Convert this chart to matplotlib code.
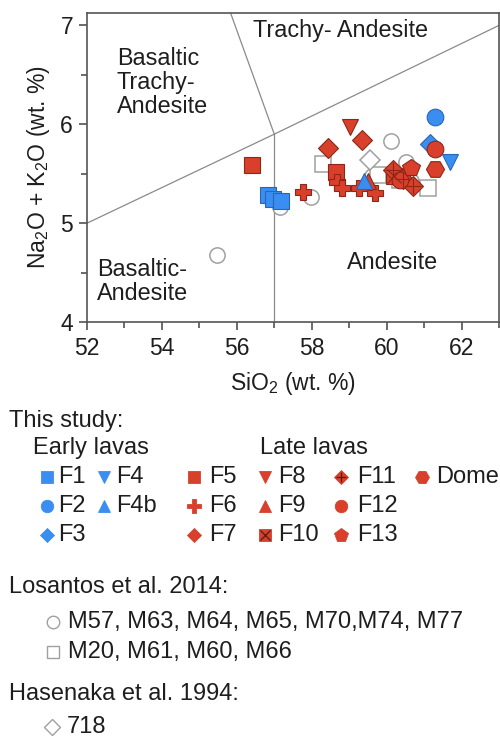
import matplotlib
matplotlib.use("Agg")
import matplotlib.pyplot as plt
from matplotlib.ticker import MultipleLocator

plt.rcParams["font.family"] = ["Liberation Sans", "DejaVu Sans"]
plt.rcParams["mathtext.fontset"] = "custom"
plt.rcParams["mathtext.rm"] = "Liberation Sans"
plt.rcParams["mathtext.it"] = "Liberation Sans:italic"
plt.rcParams["mathtext.default"] = "regular"

# ---- TAS field boundaries (SiO2, Na2O+K2O) ----
bound_lower = ([52, 57, 63], [5.0, 5.9, 7.0])
bound_vertical = ([57, 57], [4.0, 5.9])
bound_upper = ([57, 55.0], [5.9, 8.0])

# ---- This study: early lavas ----
f1_x, f1_y = [56.82, 56.97, 57.19], [5.28, 5.24, 5.22]
f2_x, f2_y = [61.30], [6.07]
f3_x, f3_y = [61.17], [5.80]
f4_x, f4_y = [61.70], [5.62]
f4b_x, f4b_y = [59.39], [5.43]

# ---- This study: late lavas ----
f5_x, f5_y = [56.41, 58.66], [5.59, 5.52]
f6_x, f6_y = [57.78, 58.68, 58.80, 59.27, 59.70], [5.32, 5.42, 5.36, 5.36, 5.31]
f7_x, f7_y = [58.44, 59.35], [5.76, 5.84]
f8_x, f8_y = [59.03], [5.97]
f9_x, f9_y = [59.50], [5.43]
f10_x, f10_y = [60.20], [5.48]
f11_x, f11_y = [60.17, 60.45, 60.70], [5.54, 5.45, 5.38]
f12_x, f12_y = [60.36, 61.30], [5.44, 5.75]
f13_x, f13_y = [60.64], [5.56]
dome_x, dome_y = [61.28], [5.55]

# ---- Literature data ----
los_circ_x = [55.46, 57.16, 57.97, 60.12, 60.52, 60.66, 59.60]
los_circ_y = [4.68, 5.16, 5.26, 5.83, 5.62, 5.43, 5.48]
los_sq_x = [58.30, 59.77, 61.10, 60.35]
los_sq_y = [5.60, 5.49, 5.36, 5.44]
has_x, has_y = [59.55], [5.64]

RED, RED_E = "#d8402b", "#8f2616"
BLUE, BLUE_E = "#3a8ef2", "#2767b5"
GREY_E = "#a0a0a0"
LINE = "#8a8a8a"
TXT = "#1e1e1e"

fig = plt.figure(figsize=(5.0, 7.37), dpi=100)
ax = fig.add_axes([0.174, 0.563, 0.824, 0.420])

for bx, by in (bound_lower, bound_vertical, bound_upper):
    ax.plot(bx, by, color=LINE, lw=0.9, zorder=1)


def pts(x, y, marker, face, edge, ms, z=3, lw=0.8):
    ax.plot(x, y, ls="none", marker=marker, ms=ms, mfc=face, mec=edge, mew=lw, zorder=z)


# literature (open symbols, underneath)
pts(los_circ_x, los_circ_y, "o", "white", GREY_E, 11, z=2, lw=1.1)
pts(los_sq_x, los_sq_y, "s", "white", GREY_E, 11.5, z=2, lw=1.1)
pts(has_x, has_y, "D", "white", GREY_E, 10, z=2, lw=1.1)

# late lavas
pts(f5_x, f5_y, "s", RED, RED_E, 11.5)
pts(f6_x, f6_y, "P", RED, RED_E, 12)
pts(f7_x, f7_y, "D", RED, RED_E, 10)
pts(f8_x, f8_y, "v", RED, RED_E, 12)
pts(f9_x, f9_y, "^", RED, RED_E, 12)
pts(f10_x, f10_y, "s", RED, RED_E, 11.5)
pts(f10_x, f10_y, "x", "none", RED_E, 10, z=3.1)
pts(f11_x, f11_y, "D", RED, RED_E, 10)
pts(f11_x, f11_y, "+", "none", RED_E, 11, z=3.1)
pts(f12_x, f12_y, "o", RED, RED_E, 12)
pts(f13_x, f13_y, "p", RED, RED_E, 13)
pts(dome_x, dome_y, "H", RED, RED_E, 13)

# early lavas
pts(f1_x, f1_y, "s", BLUE, BLUE_E, 11.5, z=4)
pts(f2_x, f2_y, "o", BLUE, BLUE_E, 12, z=4)
pts(f3_x, f3_y, "D", BLUE, BLUE_E, 10, z=2.5)
pts(f4_x, f4_y, "v", BLUE, BLUE_E, 12, z=4)
pts(f4b_x, f4b_y, "^", BLUE, BLUE_E, 12, z=4)

ax.set_xlim(52, 63)
ax.set_ylim(4, 7.13)
ax.xaxis.set_major_locator(MultipleLocator(2))
ax.xaxis.set_minor_locator(MultipleLocator(1))
ax.yaxis.set_major_locator(MultipleLocator(1))
ax.yaxis.set_minor_locator(MultipleLocator(0.5))
ax.tick_params(which="major", direction="out", length=6, width=1.1, color="#444444",
               labelsize=16.5, labelcolor=TXT)
ax.tick_params(axis="x", which="major", pad=5)
ax.tick_params(axis="y", which="major", pad=4)
ax.tick_params(which="minor", direction="out", length=4, width=1.1, color="#444444")
for s in ax.spines.values():
    s.set_color("#555555")
    s.set_linewidth(1.2)

ax.set_xlabel("SiO$_2$ (wt. %)", fontsize=16.5, labelpad=7, color=TXT)
ax.set_ylabel("Na$_2$O + K$_2$O (wt. %)", fontsize=16.5, labelpad=6, color=TXT)

FS = 16.8
ax.text(52.8, 6.42, "Basaltic\nTrachy-\nAndesite", fontsize=FS, ha="left", va="center",
        linespacing=1.05, color=TXT)
ax.text(56.43, 6.95, "Trachy- Andesite", fontsize=FS, ha="left", va="center", color=TXT)
ax.text(52.27, 4.41, "Basaltic-\nAndesite", fontsize=FS, ha="left", va="center",
        linespacing=1.05, color=TXT)
ax.text(58.93, 4.60, "Andesite", fontsize=FS, ha="left", va="center", color=TXT)

# ---- legend block laid out in pixel space ----
lg = fig.add_axes([0, 0, 1, 1], zorder=-1)
lg.set_xlim(0, 500)
lg.set_ylim(737, 0)
lg.axis("off")
LFS = 17


def key(mx, tx, y, marker, face, edge, label, ms=9, extra=None, lw=0.6):
    lg.plot([mx], [y], ls="none", marker=marker, ms=ms, mfc=face, mec=edge, mew=lw)
    if extra:
        lg.plot([mx], [y], ls="none", marker=extra, ms=ms - 1, mfc="none", mec="#5a1a10", mew=0.9)
    lg.text(tx, y, label, fontsize=LFS, ha="left", va="center", color=TXT)


lg.text(9, 421, "This study:", fontsize=LFS, ha="left", va="center", color=TXT)
lg.text(33, 448, "Early lavas", fontsize=LFS, ha="left", va="center", color=TXT)
lg.text(260, 448, "Late lavas", fontsize=LFS, ha="left", va="center", color=TXT)

r1, r2, r3 = 477, 506, 535
key(47, 58, r1, "s", BLUE, BLUE, "F1", ms=8.5)
key(47, 58, r2, "o", BLUE, BLUE, "F2", ms=9)
key(47, 58, r3, "D", BLUE, BLUE, "F3", ms=7.5)
key(104, 116, r1, "v", BLUE, BLUE, "F4", ms=9)
key(104, 116, r2, "^", BLUE, BLUE, "F4b", ms=9)
key(194, 209, r1, "s", RED, RED, "F5", ms=8.5)
key(194, 209, r2, "P", RED, RED, "F6", ms=9.5)
key(194, 209, r3, "D", RED, RED, "F7", ms=7.5)
key(265, 278, r1, "v", RED, RED, "F8", ms=9)
key(265, 278, r2, "^", RED, RED, "F9", ms=9)
key(265, 278, r3, "s", RED, RED, "F10", ms=8.5, extra="x")
key(341, 357, r1, "D", RED, RED, "F11", ms=7.5, extra="+")
key(341, 357, r2, "o", RED, RED, "F12", ms=9)
key(341, 357, r3, "p", RED, RED, "F13", ms=10)
key(422, 436, r1, "H", RED, RED, "Dome", ms=10)

lg.text(9, 587, "Losantos et al. 2014:", fontsize=LFS, ha="left", va="center", color=TXT)
key(53, 68, 622, "o", "white", GREY_E, "M57, M63, M64, M65, M70,M74, M77", ms=9, lw=1.0)
key(53, 68, 652, "s", "white", GREY_E, "M20, M61, M60, M66", ms=9, lw=1.0)
lg.text(9, 694, "Hasenaka et al. 1994:", fontsize=LFS, ha="left", va="center", color=TXT)
key(52, 67, 727, "D", "white", GREY_E, "718", ms=8, lw=1.0)

fig.savefig("out.png", dpi=100)
